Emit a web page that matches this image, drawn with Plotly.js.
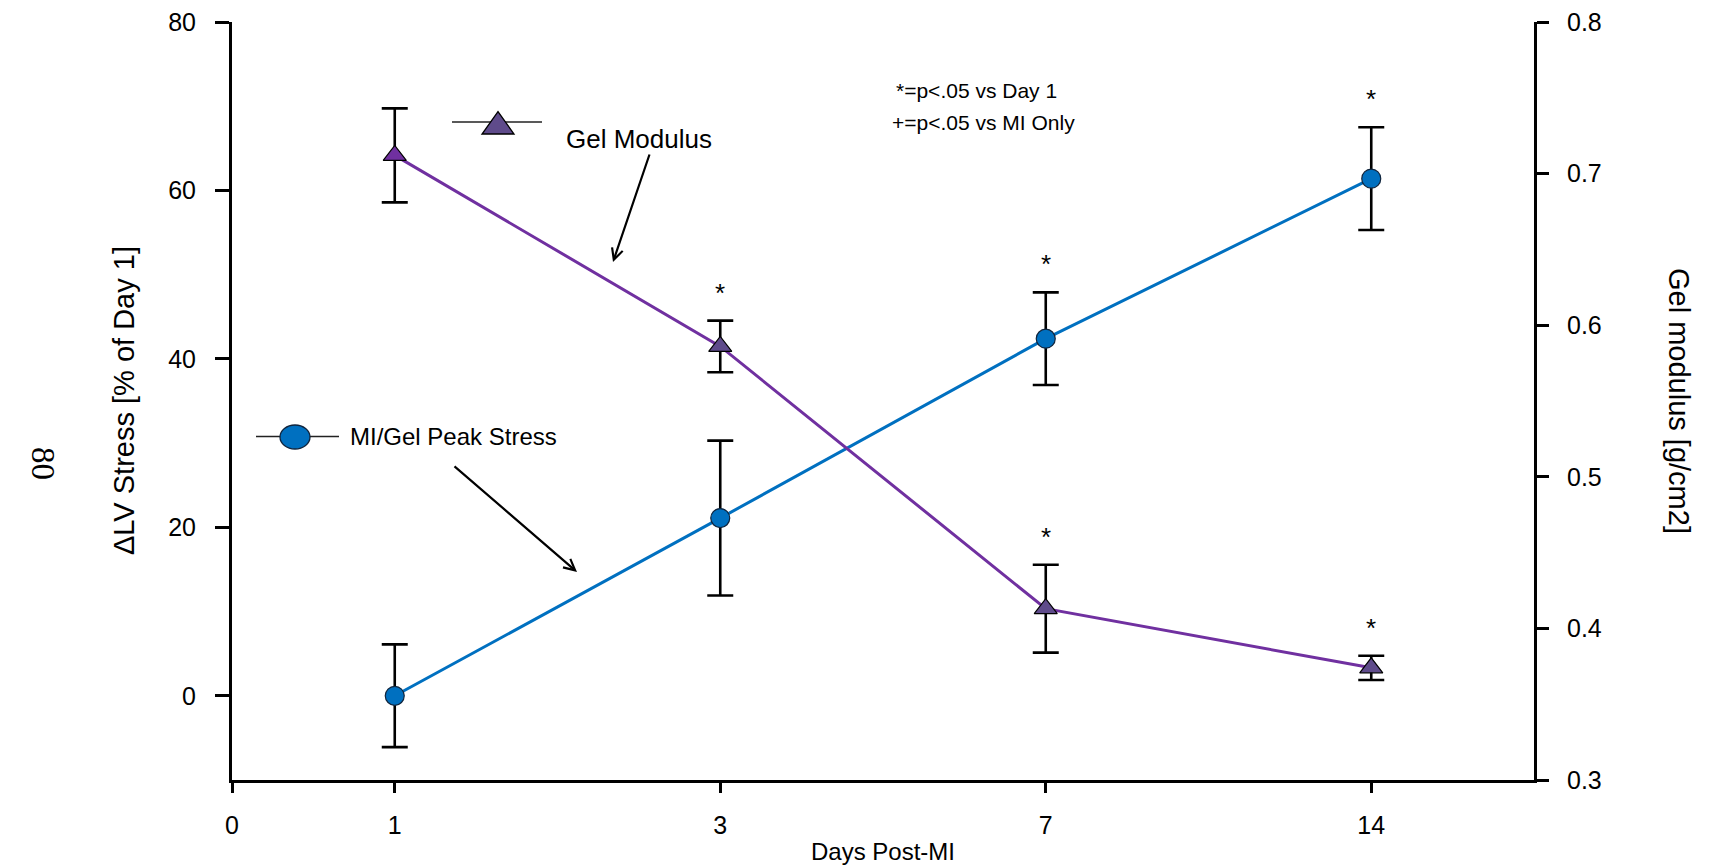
<!DOCTYPE html>
<html>
<head>
<meta charset="utf-8">
<script src="https://cdn.plot.ly/plotly-3.0.1.min.js"></script>
<style>
  html, body { margin: 0; padding: 0; background: #ffffff; }
  #chart { width: 1718px; height: 867px; }
</style>
</head>
<body>
<div id="chart"></div>
<script>
// Sampling days after infarction
const days = [1, 3, 7, 14];
const axisDays = [0, 1, 3, 7, 14];

// MI/Gel peak stress change, % of Day 1 (left axis), mean and error
const peakStress = [0, 21.1, 42.4, 61.4];
const peakStressErr = [6.1, 9.2, 5.5, 6.1];

// Gel modulus, g/cm2 (right axis), mean and error
const gelModulus = [0.712, 0.586, 0.413, 0.374];
const gelModulusErr = [0.031, 0.017, 0.029, 0.008];

// p<.05 vs Day 1 flags
const stressSig = [false, false, true, true];
const gelSig = [false, true, true, true];

// Evenly spaced sampling days, with the origin half a step to the left
const dayPos = days.map((d, i) => 2 * i + 1);
const tickPos = [0].concat(dayPos);

const FONT = 'Liberation Sans, Arial, sans-serif';
const W = 1718, H = 867;
const M = { l: 232, r: 184, t: 22, b: 87 };
const PW = W - M.l - M.r, PH = H - M.t - M.b;
const px = x => (x - M.l) / PW;
const py = y => (H - M.b - y) / PH;

const BLUE = '#0070C0';
const PURPLE = '#7030A0';
const SLATE = '#5F4B8B';

const stressTrace = {
  x: dayPos, y: peakStress, yaxis: 'y',
  type: 'scatter', mode: 'lines+markers', name: 'MI/Gel Peak Stress',
  line: { color: BLUE, width: 3 },
  marker: { symbol: 'circle', size: 19, color: BLUE, line: { color: '#10243c', width: 1.2 } },
  error_y: { type: 'data', array: peakStressErr, visible: true, color: '#000', thickness: 2.6, width: 13 },
  showlegend: false, cliponaxis: false
};

const gelTrace = {
  x: dayPos, y: gelModulus, yaxis: 'y2',
  type: 'scatter', mode: 'lines+markers', name: 'Gel Modulus',
  line: { color: PURPLE, width: 3 },
  marker: { symbol: 'triangle-up', size: 20, color: [PURPLE, SLATE, SLATE, SLATE], line: { color: '#000', width: 1.2 } },
  error_y: { type: 'data', array: gelModulusErr, visible: true, color: '#000', thickness: 2.6, width: 13 },
  showlegend: false, cliponaxis: false
};

// Significance stars above the upper error caps
const stars = [];
days.forEach((d, i) => {
  if (stressSig[i]) stars.push({ x: dayPos[i], y: peakStress[i] + peakStressErr[i], yref: 'y' });
  if (gelSig[i]) stars.push({ x: dayPos[i], y: gelModulus[i] + gelModulusErr[i], yref: 'y2' });
});
const starAnns = stars.map(s => ({
  x: s.x, y: s.y, xref: 'x', yref: s.yref, text: '*', showarrow: false,
  yanchor: 'middle', yshift: 28, font: { family: FONT, size: 26, color: '#000' }
}));

const textAnns = [
  { x: px(106), y: 0.5, xref: 'paper', yref: 'paper', text: '\u0394LV Stress [% of Day 1]', textangle: -90,
    showarrow: false, font: { family: FONT, size: 29, color: '#000' } },
  { x: px(1697), y: 0.5, xref: 'paper', yref: 'paper', text: 'Gel modulus [g/cm2]', textangle: 90,
    showarrow: false, font: { family: FONT, size: 29, color: '#000' } },
  { x: px(23), y: py(463), xref: 'paper', yref: 'paper', text: '80', textangle: 90,
    showarrow: false, font: { family: 'Liberation Serif, Times New Roman, serif', size: 33, color: '#000' } },
  { x: px(976), y: py(77), xref: 'paper', yref: 'paper', text: '*=p<.05 vs Day 1',
    showarrow: false, font: { family: FONT, size: 21, color: '#000' } },
  { x: px(983), y: py(109), xref: 'paper', yref: 'paper', text: '+=p<.05 vs MI Only',
    showarrow: false, font: { family: FONT, size: 21, color: '#000' } },
  { x: px(564), y: py(122), xref: 'paper', yref: 'paper', xanchor: 'left', text: 'Gel Modulus',
    showarrow: false, font: { family: FONT, size: 26, color: '#000' } },
  { x: px(348), y: py(436), xref: 'paper', yref: 'paper', xanchor: 'left', text: 'MI/Gel Peak Stress',
    showarrow: false, font: { family: FONT, size: 24, color: '#000' } },
  // pointer arrows from the key labels to their curves
  { x: px(613), y: py(262), xref: 'paper', yref: 'paper', ax: 37, ay: -109, text: '',
    showarrow: true, arrowhead: 5, arrowsize: 1, arrowwidth: 2.2, arrowcolor: '#000' },
  { x: px(577), y: py(572), xref: 'paper', yref: 'paper', ax: -124, ay: -107, text: '',
    showarrow: true, arrowhead: 5, arrowsize: 1, arrowwidth: 2.2, arrowcolor: '#000' }
];

// Key symbols drawn beside the labels
const keyShapes = [
  { type: 'line', xref: 'paper', yref: 'paper', x0: px(452), x1: px(542), y0: py(122), y1: py(122),
    line: { color: '#222', width: 1.5 } },
  { type: 'path', xref: 'paper', yref: 'paper',
    path: `M${px(482)},${py(134)} L${px(514)},${py(134)} L${px(498)},${py(111.5)} Z`,
    fillcolor: SLATE, line: { color: '#000', width: 1.3 } },
  { type: 'line', xref: 'paper', yref: 'paper', x0: px(256), x1: px(339), y0: py(436.5), y1: py(436.5),
    line: { color: '#222', width: 1.5 } },
  { type: 'circle', xref: 'paper', yref: 'paper', x0: px(280), x1: px(310), y0: py(449), y1: py(425),
    fillcolor: BLUE, line: { color: '#10243c', width: 1.3 } }
];

const layout = {
  width: W, height: H,
  margin: M,
  paper_bgcolor: '#fff', plot_bgcolor: '#fff',
  font: { family: FONT, color: '#000' },
  xaxis: {
    range: [0, 8], tickmode: 'array', tickvals: tickPos, ticktext: axisDays.map(String),
    showgrid: false, zeroline: false, showline: true, linecolor: '#000', linewidth: 3,
    ticks: 'outside', ticklen: 10, tickwidth: 3, tickcolor: '#000',
    tickfont: { family: FONT, size: 25 }, ticklabelstandoff: 11,
    title: { text: 'Days Post-MI', font: { family: FONT, size: 24 }, standoff: 6 }
  },
  yaxis: {
    range: [-10, 80], tickmode: 'array', tickvals: [0, 20, 40, 60, 80],
    showgrid: false, zeroline: false, showline: true, linecolor: '#000', linewidth: 3,
    ticks: 'outside', ticklen: 14, tickwidth: 3, tickcolor: '#000',
    tickfont: { family: FONT, size: 25 }, ticklabelstandoff: 14
  },
  yaxis2: {
    range: [0.3, 0.8], overlaying: 'y', side: 'right', tickmode: 'array',
    tickvals: [0.3, 0.4, 0.5, 0.6, 0.7, 0.8], ticktext: ['0.3', '0.4', '0.5', '0.6', '0.7', '0.8'],
    showgrid: false, zeroline: false, showline: true, linecolor: '#000', linewidth: 3,
    ticks: 'outside', ticklen: 12, tickwidth: 3, tickcolor: '#000',
    tickfont: { family: FONT, size: 25 }, ticklabelstandoff: 13
  },
  showlegend: false,
  annotations: starAnns.concat(textAnns),
  shapes: keyShapes
};

Plotly.newPlot('chart', [stressTrace, gelTrace], layout, { displayModeBar: false, staticPlot: true });
</script>
</body>
</html>
